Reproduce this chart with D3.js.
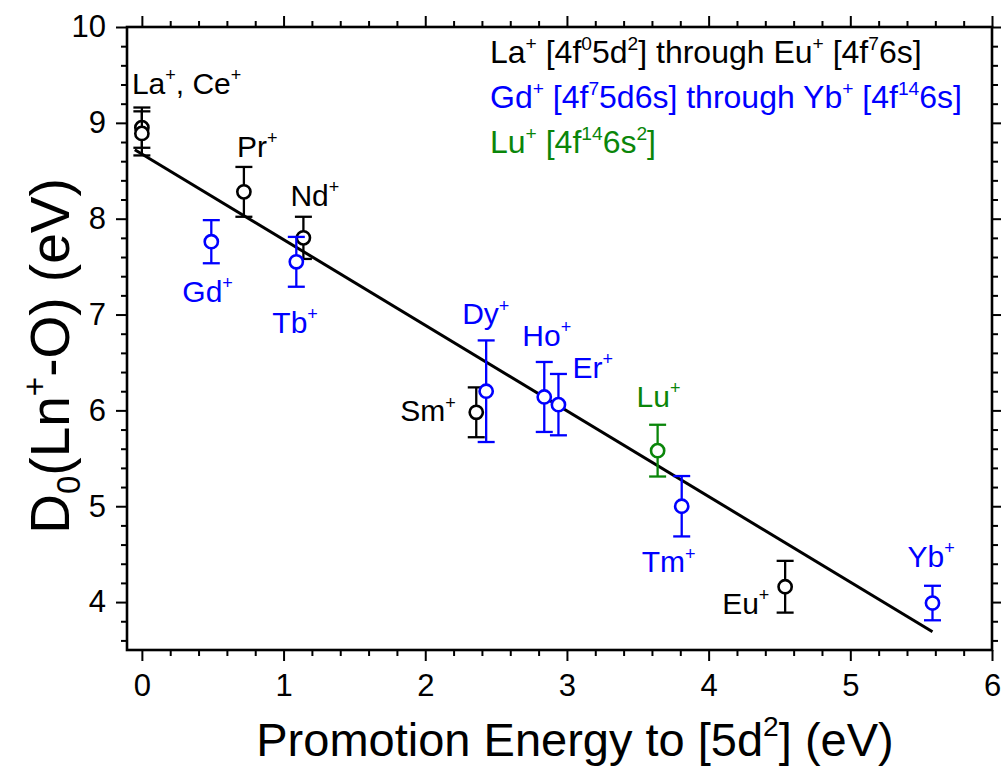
<!DOCTYPE html>
<html>
<head>
<meta charset="utf-8">
<script src="https://cdn.jsdelivr.net/npm/d3@7"></script>
<style>
  body { margin: 0; background: #fff; }
  svg { display: block; font-family: "Liberation Sans", Arial, sans-serif; }
</style>
</head>
<body>
<svg id="chart" width="1001" height="772"></svg>
<script>
// ---- data ----
const ions       = ["La+", "Ce+", "Pr+", "Nd+", "Sm+", "Eu+", "Gd+", "Tb+", "Dy+", "Ho+", "Er+", "Tm+", "Yb+", "Lu+"];
const promotionE = [0,     0,     0.72,  1.14,  2.36,  4.54,  0.49,  1.09,  2.43,  2.84,  2.94,  3.81,  5.58,  3.64];
const d0         = [8.95,  8.89,  8.28,  7.80,  5.98,  4.16,  7.76,  7.55,  6.20,  6.14,  6.06,  5.00,  3.99,  5.58];
const d0Err      = [0.21,  0.23,  0.26,  0.22,  0.26,  0.27,  0.225, 0.26,  0.53,  0.365, 0.32,  0.315, 0.18,  0.27];
const groups     = ["A",   "A",   "A",   "A",   "A",   "A",   "B",   "B",   "B",   "B",   "B",   "B",   "B",   "C"];
const pointLabels = ["La^{+}, Ce^{+}", "", "Pr^{+}", "Nd^{+}", "Sm^{+}", "Eu^{+}", "Gd^{+}", "Tb^{+}",
                     "Dy^{+}", "Ho^{+}", "Er^{+}", "Tm^{+}", "Yb^{+}", "Lu^{+}"];

// linear fit drawn in the figure
const fitX = [-0.05, 5.58];
const fitY = [8.72, 3.69];

const legendLines = [
  { group: "A", text: "La^{+} [4f^{0}5d^{2}] through Eu^{+} [4f^{7}6s]" },
  { group: "B", text: "Gd^{+} [4f^{7}5d6s] through Yb^{+} [4f^{14}6s]" },
  { group: "C", text: "Lu^{+} [4f^{14}6s^{2}]" }
];

const xTicks = [0, 1, 2, 3, 4, 5, 6];
const yTicks = [4, 5, 6, 7, 8, 9, 10];

// ---- layout ----
const colors = { A: "#000000", B: "#0000ff", C: "#0a860a" };
// label placement (px offset from the point, text start / baseline)
const labelOffset = {
  "La+": [-10, -34], "Pr+": [-7, -35], "Nd+": [-13, -32], "Sm+": [-76, 9],
  "Eu+": [-63, 27],  "Gd+": [-29, 60], "Tb+": [-24, 71],  "Dy+": [-24, -67],
  "Ho+": [-22, -51], "Er+": [14, -27], "Tm+": [-40, 66],  "Yb+": [-25, -36],
  "Lu+": [-21, -44]
};

const plotL = 127, plotR = 992, plotT = 27, plotB = 650;
const MAJOR = 11, MINOR = 6;

const svg = d3.select("#chart");

const x = d3.scaleLinear().domain([-0.105, 6]).range([plotL, plotR]);
const y = d3.scaleLinear().domain([3.5, 10]).range([plotB, plotT]);

const round1 = v => Math.round(v * 10) / 10;
const xMinor = d3.range(0, 6.01, 0.2).map(round1).filter(v => !xTicks.includes(v));
const yMinor = d3.range(3.6, 10.01, 0.2).map(round1).filter(v => !yTicks.includes(v));

// rich text: ^{..} superscript, _{..} subscript
function rich(textSel, str, size) {
  const re = /(\^\{[^}]*\}|_\{[^}]*\})/g;
  const parts = str.split(re).filter(s => s.length);
  let shift = 0;
  parts.forEach(p => {
    let target = 0, fs = size, t = p;
    if (p.startsWith("^{")) { target = -0.42 * size; fs = size * 0.6; t = p.slice(2, -1); }
    else if (p.startsWith("_{")) { target = 0.2 * size; fs = size * 0.6; t = p.slice(2, -1); }
    textSel.append("tspan")
      .attr("dy", target - shift)
      .style("font-size", fs + "px")
      .text(t);
    shift = target;
  });
}

function styleAxis(g) {
  g.select(".domain").remove();
  g.selectAll(".tick line").attr("stroke", "#000").attr("stroke-width", 2);
}

// axes: majors with labels on bottom / left, ticks outward on all four sides
const axes = [
  [d3.axisBottom(x), `translate(0,${plotB})`, xTicks, xMinor, true, 13],
  [d3.axisTop(x),    `translate(0,${plotT})`, xTicks, xMinor, false, 10],
  [d3.axisLeft(y),   `translate(${plotL},0)`, yTicks, yMinor, true, 10],
  [d3.axisRight(y),  `translate(${plotR},0)`, yTicks, yMinor, false, 10]
];
axes.forEach(([ax, tr, maj, min, labels, pad]) => {
  svg.append("g").attr("transform", tr)
    .call(ax.tickValues(min).tickSize(MINOR).tickSizeOuter(0).tickFormat(""))
    .call(styleAxis);
  const g = svg.append("g").attr("transform", tr)
    .call(ax.tickValues(maj).tickSize(MAJOR).tickSizeOuter(0)
            .tickPadding(pad).tickFormat(labels ? d3.format("d") : ""))
    .call(styleAxis);
  g.selectAll("text").style("font-size", "31px").attr("fill", "#000")
    .style("font-family", "'Liberation Sans', Arial, sans-serif");
});

svg.append("rect")
  .attr("x", plotL).attr("y", plotT)
  .attr("width", plotR - plotL).attr("height", plotB - plotT)
  .attr("fill", "none").attr("stroke", "#000").attr("stroke-width", 2.6);

// axis titles
rich(svg.append("text")
  .attr("x", 575).attr("y", 756)
  .attr("text-anchor", "middle").attr("fill", "#000")
  .style("font-size", "47px"), "Promotion Energy to [5d^{2}] (eV)", 47);

rich(svg.append("text")
  .attr("transform", "translate(69,356) rotate(-90)")
  .attr("text-anchor", "middle").attr("fill", "#000")
  .style("font-size", "55px"), "D_{0}(Ln^{+}-O) (eV)", 55);

// fit line
svg.append("path")
  .attr("d", d3.line().x(d => x(d[0])).y(d => y(d[1]))(d3.zip(fitX, fitY)))
  .attr("fill", "none").attr("stroke", "#000").attr("stroke-width", 3);

// points with error bars
const pts = ions.map((ion, i) => ({
  ion, px: promotionE[i], py: d0[i], err: d0Err[i], g: groups[i], label: pointLabels[i]
}));

const CAP = 8.5;
const pg = svg.append("g");
pts.forEach(d => {
  const c = colors[d.g];
  const cx = x(d.px);
  const g = pg.append("g").attr("stroke", c).attr("stroke-width", 2.3).attr("fill", "none");
  g.append("line").attr("x1", cx).attr("x2", cx)
    .attr("y1", y(d.py + d.err)).attr("y2", y(d.py - d.err));
  [d.py + d.err, d.py - d.err].forEach(v => {
    g.append("line").attr("x1", cx - CAP).attr("x2", cx + CAP)
      .attr("y1", y(v)).attr("y2", y(v));
  });
  g.append("circle").attr("cx", cx).attr("cy", y(d.py)).attr("r", 6.6)
    .attr("stroke-width", 2.6).attr("fill", "#fff");
});

// point labels
pts.filter(d => d.label).forEach(d => {
  const [dx, dy] = labelOffset[d.ion];
  rich(svg.append("text")
    .attr("x", x(d.px) + dx).attr("y", y(d.py) + dy)
    .attr("fill", colors[d.g]).style("font-size", "30px"), d.label, 30);
});

// legend text
legendLines.forEach((l, i) => {
  rich(svg.append("text")
    .attr("x", 490).attr("y", 63 + i * 45)
    .attr("fill", colors[l.group]).style("font-size", "32px"), l.text, 32);
});
</script>
</body>
</html>
